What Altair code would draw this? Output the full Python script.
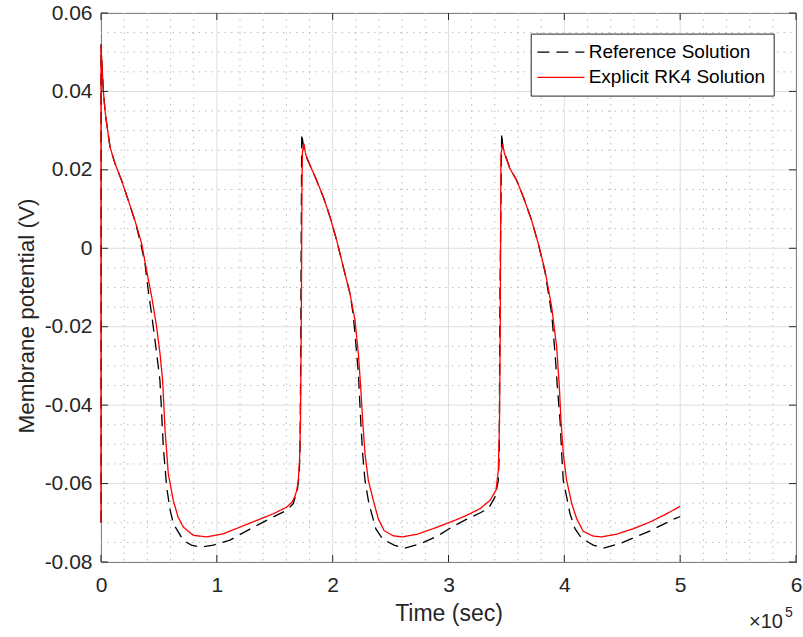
import altair as alt
import pandas as pd

# ---- data (time in units of 1e5 s, membrane potential in V) ----
series = ["Reference Solution", "Explicit RK4 Solution"]

ref_t = [0.0, 0.0, 0.01, 0.02, 0.035, 0.049, 0.078, 0.121, 0.178, 0.236, 0.293, 0.345, 0.38,
         0.408, 0.44, 0.475, 0.509, 0.525, 0.538, 0.567, 0.595, 0.624, 0.711, 0.78, 0.855, 0.97,
         1.114, 1.286, 1.488, 1.603, 1.66, 1.695, 1.71, 1.718, 1.724, 1.728, 1.733, 1.75, 1.764,
         1.776, 1.804, 1.862, 1.919, 1.977, 2.035, 2.092, 2.15, 2.175, 2.193, 2.222, 2.242, 2.259,
         2.279, 2.308, 2.337, 2.372, 2.43, 2.53, 2.617, 2.76, 2.905, 3.034, 3.15, 3.27, 3.344,
         3.402, 3.43, 3.438, 3.445, 3.459, 3.47, 3.482, 3.497, 3.531, 3.589, 3.646, 3.718, 3.775,
         3.833, 3.891, 3.92, 3.94, 3.963, 3.977, 3.991, 4.026, 4.049, 4.092, 4.15, 4.25, 4.337,
         4.48, 4.625, 4.754, 4.826, 4.95, 5.0]
ref_v = [-0.070, 0.052, 0.046, 0.0403, 0.035, 0.0318, 0.0258, 0.0216, 0.0173, 0.0122, 0.0070,
         0.0010, -0.0040, -0.0107, -0.0175, -0.0255, -0.0337, -0.0430, -0.0507, -0.0609, -0.0665,
         -0.0702, -0.0745, -0.0757, -0.0762, -0.0757, -0.0744, -0.0716, -0.0685, -0.0668, -0.0651,
         -0.0617, -0.0580, -0.0524, -0.0300, 0.0000, 0.0292, 0.0255, 0.0245, 0.0232, 0.0212,
         0.0173, 0.0131, 0.0080, 0.0020, -0.0048, -0.0116, -0.0165, -0.0218, -0.0320, -0.0439,
         -0.0524, -0.0592, -0.0643, -0.0677, -0.0715, -0.0741, -0.0757, -0.0765, -0.0753, -0.0734,
         -0.0710, -0.0692, -0.0675, -0.0664, -0.0634, -0.0592, -0.0520, -0.0099, 0.0294, 0.0255,
         0.0243, 0.0232, 0.0203, 0.0173, 0.0131, 0.0071, 0.0012, -0.0060, -0.0167, -0.0269,
         -0.0354, -0.0439, -0.0524, -0.0592, -0.0643, -0.0677, -0.0715, -0.0740, -0.0757, -0.0765,
         -0.0753, -0.0735, -0.0719, -0.0708, -0.0690, -0.0684]

rk4_t = [0.0, 0.0, 0.01, 0.02, 0.035, 0.049, 0.078, 0.121, 0.178, 0.236, 0.293, 0.351, 0.394,
         0.438, 0.48, 0.51, 0.532, 0.553, 0.581, 0.624, 0.665, 0.711, 0.797, 0.912, 1.056, 1.2,
         1.344, 1.488, 1.603, 1.65, 1.675, 1.69, 1.703, 1.714, 1.722, 1.73, 1.735, 1.739, 1.752,
         1.764, 1.776, 1.804, 1.862, 1.919, 1.977, 2.035, 2.092, 2.15, 2.193, 2.222, 2.242, 2.259,
         2.279, 2.308, 2.351, 2.394, 2.444, 2.52, 2.6, 2.732, 2.876, 3.02, 3.15, 3.272, 3.358,
         3.41, 3.43, 3.44, 3.447, 3.453, 3.468, 3.482, 3.497, 3.531, 3.589, 3.646, 3.718, 3.775,
         3.833, 3.891, 3.934, 3.957, 3.971, 3.991, 4.02, 4.064, 4.107, 4.164, 4.25, 4.32, 4.452,
         4.596, 4.74, 4.87, 5.0]
rk4_v = [-0.070, 0.0518, 0.046, 0.0403, 0.035, 0.0318, 0.0258, 0.0216, 0.0173, 0.0122, 0.0071,
         0.0012, -0.0057, -0.0124, -0.0200, -0.0270, -0.0337, -0.0464, -0.0575, -0.0643, -0.0685,
         -0.0711, -0.0732, -0.0736, -0.0728, -0.0711, -0.0694, -0.0677, -0.0660, -0.0647, -0.0632,
         -0.0617, -0.0592, -0.0540, -0.0450, -0.0150, 0.0150, 0.0245, 0.0267, 0.0245, 0.0230,
         0.0212, 0.0173, 0.0131, 0.0080, 0.0020, -0.0048, -0.0116, -0.0184, -0.0269, -0.0354,
         -0.0439, -0.0524, -0.0592, -0.0643, -0.0690, -0.0720, -0.0733, -0.0736, -0.0729, -0.0714,
         -0.0698, -0.0682, -0.0664, -0.0643, -0.0617, -0.0566, -0.0450, -0.0200, 0.0241, 0.0265,
         0.0243, 0.0230, 0.0203, 0.0173, 0.0131, 0.0071, 0.0012, -0.0056, -0.0150, -0.0252,
         -0.0354, -0.0439, -0.0524, -0.0592, -0.0651, -0.0690, -0.0722, -0.0734, -0.0736, -0.0729,
         -0.0715, -0.0698, -0.0679, -0.0658]

x_ticks = [0, 1, 2, 3, 4, 5, 6]
y_ticks = [-0.08, -0.06, -0.04, -0.02, 0.0, 0.02, 0.04, 0.06]
x_minor = [0.2, 0.4, 0.6, 0.8, 1.2, 1.4, 1.6, 1.8, 2.2, 2.4, 2.6, 2.8, 3.2, 3.4, 3.6, 3.8,
           4.2, 4.4, 4.6, 4.8, 5.2, 5.4, 5.6, 5.8]
y_minor = [-0.075, -0.07, -0.065, -0.055, -0.05, -0.045, -0.035, -0.03, -0.025, -0.015, -0.01,
           -0.005, 0.005, 0.01, 0.015, 0.025, 0.03, 0.035, 0.045, 0.05, 0.055]

x_title = "Time (sec)"
y_title = "Membrane potential (V)"
exp_base = "×10"
exp_power = "5"

# ---- layout ----
W, H = 695, 549
FONT = "Liberation Sans"
AX = "#262626"

xs = alt.Scale(domain=[0, 6], nice=False, zero=False)
ys = alt.Scale(domain=[-0.08, 0.06], nice=False, zero=False)

y_label_expr = ("abs(datum.value) < 1e-9 ? '0' : (datum.value < 0 ? '-' + format(-datum.value, '.2f') "
                ": format(datum.value, '.2f'))")

x_axis = alt.Axis(values=x_ticks, format="d", title=x_title,
                  grid=False, ticks=False, tickSize=0, domain=False, labelFlush=False,
                  labelPadding=12, labelFontSize=21, labelFont=FONT,
                  labelColor=AX, titleFontSize=23, titleFont=FONT,
                  titleFontWeight="normal", titleColor=AX,
                  titleY=58, titleBaseline="alphabetic")
y_axis = alt.Axis(values=y_ticks, labelExpr=y_label_expr, title=y_title,
                  grid=False, ticks=False, tickSize=0, domain=False, labelFlush=False,
                  labelPadding=9, labelFontSize=21, labelFont=FONT,
                  labelColor=AX, titleFontSize=22.5, titleFont=FONT,
                  titleFontWeight="normal", titleColor=AX,
                  titleX=-68, titleY=H / 2 + 28, titleBaseline="alphabetic",
                  titleAngle=270)

ref_df = pd.DataFrame({"t": ref_t, "v": ref_v, "series": series[0], "i": range(len(ref_t))})
rk4_df = pd.DataFrame({"t": rk4_t, "v": rk4_v, "series": series[1], "i": range(len(rk4_t))})
xt_df = pd.DataFrame({"t": x_ticks})
yt_df = pd.DataFrame({"v": y_ticks})
xm_df = pd.DataFrame({"t": x_minor})
ym_df = pd.DataFrame({"v": y_minor})

X = alt.X("t:Q", scale=xs, axis=x_axis)
Y = alt.Y("v:Q", scale=ys, axis=y_axis)

minor_style = dict(color="#bdbdbd", strokeWidth=1, strokeDash=[1.5, 5])
major_style = dict(color="#dedede", strokeWidth=1)

xminor = alt.Chart(xm_df).mark_rule(**minor_style).encode(x=X, y=alt.value(0), y2=alt.value(H))
yminor = alt.Chart(ym_df).mark_rule(**minor_style).encode(y=Y, x=alt.value(0), x2=alt.value(W))
xmajor = alt.Chart(xt_df).mark_rule(**major_style).encode(x=X, y=alt.value(0), y2=alt.value(H))
ymajor = alt.Chart(yt_df).mark_rule(**major_style).encode(y=Y, x=alt.value(0), x2=alt.value(W))

color = alt.Color("series:N", scale=alt.Scale(domain=series, range=["#000000", "#ff0000"]),
                  legend=alt.Legend(title=None))
dash = alt.StrokeDash("series:N", scale=alt.Scale(domain=series, range=[[12, 7], [1, 0]]),
                      legend=alt.Legend(title=None))

ref_line = alt.Chart(ref_df).mark_line(strokeWidth=1.3).encode(
    x=X, y=Y, color=color, strokeDash=dash, order="i:Q")
rk4_line = alt.Chart(rk4_df).mark_line(strokeWidth=1.3).encode(
    x=X, y=Y, color=color, strokeDash=dash, order="i:Q")

tick_style = dict(color=AX, strokeWidth=1)
tb = alt.Chart(xt_df).mark_rule(**tick_style).encode(x=X, y=alt.value(H), y2=alt.value(H - 7))
tt = alt.Chart(xt_df).mark_rule(**tick_style).encode(x=X, y=alt.value(0), y2=alt.value(7))
tl = alt.Chart(yt_df).mark_rule(**tick_style).encode(y=Y, x=alt.value(0), x2=alt.value(7))
tr = alt.Chart(yt_df).mark_rule(**tick_style).encode(y=Y, x=alt.value(W), x2=alt.value(W - 7))

txt_df = pd.DataFrame({"a": [exp_base], "b": [exp_power]})
exp_txt = alt.Chart(txt_df).mark_text(font=FONT, fontSize=20, color=AX, align="right",
                                      baseline="alphabetic").encode(
    text="a:N", x=alt.value(682), y=alt.value(615))
pow_txt = alt.Chart(txt_df).mark_text(font=FONT, fontSize=14, color=AX, align="left",
                                      baseline="alphabetic").encode(
    text="b:N", x=alt.value(684), y=alt.value(604))

chart = alt.layer(xminor, yminor, xmajor, ymajor, ref_line, rk4_line, tb, tt, tl, tr,
                  exp_txt, pow_txt).properties(
    width=W, height=H, autosize="none",
    padding={"left": 101, "top": 13, "right": 7, "bottom": 75},
    background="white",
).configure_view(stroke=AX, strokeWidth=1).configure_legend(
    orient="none", legendX=429.7, legendY=20.6, strokeColor=AX, fillColor="white",
    padding=8, symbolType="M-2.4,0H2.4", symbolSize=384, symbolStrokeWidth=1.3,
    labelFontSize=19, labelFont=FONT, labelColor="#000000", labelOffset=17.3, rowPadding=4.2,
    labelLimit=400, cornerRadius=0, symbolOffset=11.7,
)

chart.save("out.html", embed_options={"renderer": "svg", "actions": False})
